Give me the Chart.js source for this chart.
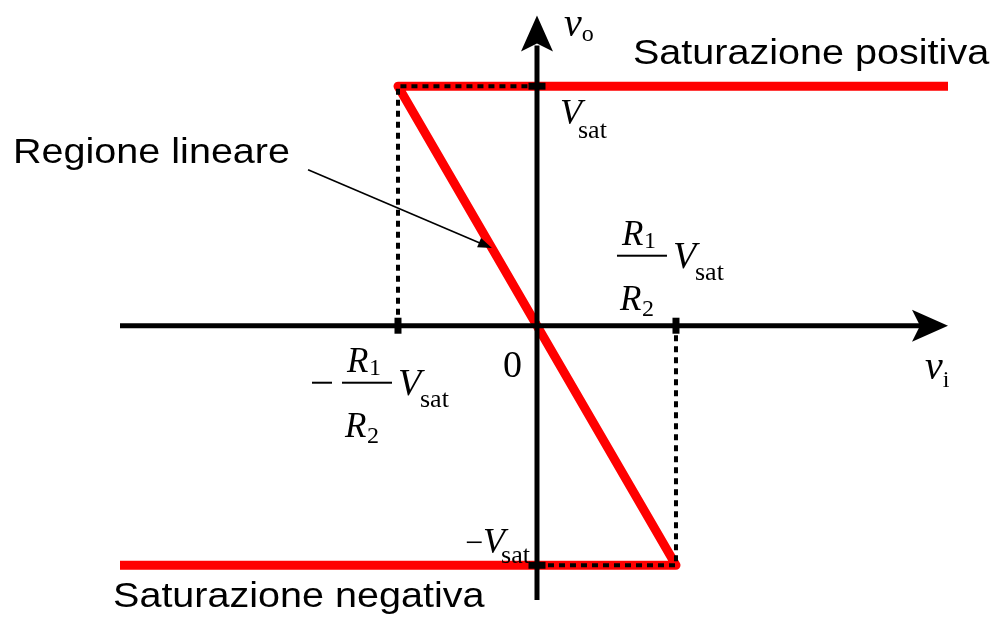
<!DOCTYPE html>
<html>
<head>
<meta charset="utf-8">
<script src="https://cdn.jsdelivr.net/npm/chart.js@4/dist/chart.umd.min.js"></script>
<style>
  body { margin: 0; background: #fff; }
  #wrap { width: 999px; height: 619px; }
</style>
</head>
<body>
<div id="wrap"><canvas id="myChart" width="999" height="619"></canvas></div>
<script>
// v_i range and v_o range (units: x in (R1/R2)Vsat, y in Vsat)
var xRange = [-3, 2.957];
var yRange = [-1.145, 1.295];

// transfer characteristic: saturazione negativa -> regione lineare -> saturazione positiva
var curveX = [-3, 1, -1, 2.957];
var curveY = [-1, -1, 1, 1];

// dotted guide lines
var guideLeftX = [-1, -1, 0];
var guideLeftY = [0, 1, 1];
var guideRightX = [0, 1, 1];
var guideRightY = [-1, -1, 0];

// axes (ends under the arrow heads)
var axisX = [-3, 2.78];
var axisY = [-1.145, 1.17];

// tick marks
var xTicks = [-1, 1];
var yTicks = [1, -1];

// pointer for "Regione lineare"
var pointerFrom = { x: -1.647, y: 0.651 };
var pointerTo = { x: -0.324, y: 0.324 };

var serif = '"Liberation Serif", "Times New Roman", serif';
var sans = '"Liberation Sans", Arial, sans-serif';

function pts(xs, ys) {
    var out = [];
    for (var i = 0; i < xs.length; i++) out.push({ x: xs[i], y: ys[i] });
    return out;
}

// text labels: anchor in data units, offset in px, list of runs
var labels = [
    { at: [0, 1], dx: 96, dy: -22, sx: 1.13, runs: [{ t: 'Saturazione positiva', f: '35px ' + sans }] },
    { at: [-1, 1], dx: -385, dy: 77, sx: 1.13, runs: [{ t: 'Regione lineare', f: '35px ' + sans }] },
    { at: [-3, -1], dx: -7, dy: 42, sx: 1.13, runs: [{ t: 'Saturazione negativa', f: '35px ' + sans }] },
    { at: [0, 1.295], dx: 27, dy: 20, runs: [{ t: 'v', f: 'italic 40px ' + serif }, { t: 'o', f: '24px ' + serif, dy: 5 }] },
    { at: [2.957, 0], dx: -23, dy: 53, runs: [{ t: 'v', f: 'italic 40px ' + serif }, { t: 'i', f: '24px ' + serif, dy: 8 }] },
    { at: [0, 0], dx: -34, dy: 51, runs: [{ t: '0', f: '38px ' + serif }] },
    { at: [0, 1], dx: 23, dy: 38, runs: [{ t: 'V', f: 'italic 36px ' + serif }, { t: 'sat', f: '26px ' + serif, dx: -4, dy: 14 }] },
    { at: [0, -1], dx: -72, dy: -12, runs: [{ t: '\u2212', f: '32px ' + serif }, { t: 'V', f: 'italic 36px ' + serif }, { t: 'sat', f: '26px ' + serif, dx: -4, dy: 10 }] }
];

// fractions R1/R2 Vsat: anchor, sign
var fractions = [
    { at: [-1, 0], dx: -56, dy: 57, minus: true },
    { at: [1, 0], dx: -59, dy: -70, minus: false }
];

var overlay = {
    id: 'overlay',
    afterDatasetsDraw: function (chart) {
        var ctx = chart.ctx;
        var xs = chart.scales.x, ys = chart.scales.y;
        function px(x, y) { return [xs.getPixelForValue(x), ys.getPixelForValue(y)]; }

        ctx.save();
        ctx.fillStyle = '#000';
        ctx.strokeStyle = '#000';

        // arrow heads on the axes
        var tx = px(xRange[1], 0);
        ctx.beginPath();
        ctx.moveTo(tx[0], tx[1]);
        ctx.lineTo(tx[0] - 36, tx[1] - 16);
        ctx.lineTo(tx[0] - 28, tx[1]);
        ctx.lineTo(tx[0] - 36, tx[1] + 16);
        ctx.closePath();
        ctx.fill();

        var ty = px(0, yRange[1]);
        ctx.beginPath();
        ctx.moveTo(ty[0], ty[1]);
        ctx.lineTo(ty[0] - 16, ty[1] + 36);
        ctx.lineTo(ty[0], ty[1] + 28);
        ctx.lineTo(ty[0] + 16, ty[1] + 36);
        ctx.closePath();
        ctx.fill();

        // pointer
        var a = px(pointerFrom.x, pointerFrom.y), b = px(pointerTo.x, pointerTo.y);
        var ang = Math.atan2(b[1] - a[1], b[0] - a[0]);
        ctx.lineWidth = 1.6;
        ctx.beginPath();
        ctx.moveTo(a[0], a[1]);
        ctx.lineTo(b[0] - 10 * Math.cos(ang), b[1] - 10 * Math.sin(ang));
        ctx.stroke();
        ctx.beginPath();
        ctx.moveTo(b[0], b[1]);
        ctx.lineTo(b[0] - 14 * Math.cos(ang) + 5 * Math.sin(ang), b[1] - 14 * Math.sin(ang) - 5 * Math.cos(ang));
        ctx.lineTo(b[0] - 14 * Math.cos(ang) - 5 * Math.sin(ang), b[1] - 14 * Math.sin(ang) + 5 * Math.cos(ang));
        ctx.closePath();
        ctx.fill();

        // labels
        ctx.textBaseline = 'alphabetic';
        ctx.textAlign = 'left';
        labels.forEach(function (l) {
            var p = px(l.at[0], l.at[1]);
            ctx.save();
            ctx.translate(p[0] + l.dx, p[1] + l.dy);
            ctx.scale(l.sx || 1, 1);
            var cx = 0;
            l.runs.forEach(function (r) {
                ctx.font = r.f;
                cx += (r.dx || 0);
                ctx.fillText(r.t, cx, r.dy || 0);
                cx += ctx.measureText(r.t).width;
            });
            ctx.restore();
        });

        // fractions
        fractions.forEach(function (fr) {
            var p = px(fr.at[0], fr.at[1]);
            var x0 = p[0] + fr.dx, y0 = p[1] + fr.dy; // bar left, bar y
            if (fr.minus) {
                ctx.fillRect(x0 - 30, y0 - 1, 20, 2);
            }
            ctx.fillRect(x0, y0 - 1, 50, 2);
            ctx.font = 'italic 35px ' + serif;
            ctx.fillText('R', x0 + 5, y0 - 11);
            ctx.fillText('R', x0 + 3, y0 + 54);
            ctx.font = '24px ' + serif;
            ctx.fillText('1', x0 + 27, y0 - 8);
            ctx.fillText('2', x0 + 25, y0 + 60);
            ctx.font = 'italic 38px ' + serif;
            ctx.fillText('V', x0 + 56, y0 + 12);
            ctx.font = '26px ' + serif;
            ctx.fillText('sat', x0 + 78, y0 + 24);
        });
        ctx.restore();
    }
};

var data = {
    datasets: [
        {   // axes
            data: pts(axisX, [0, 0]),
            borderColor: '#000', borderWidth: 5, pointRadius: 0, order: 1
        },
        {
            data: pts([0, 0], axisY),
            borderColor: '#000', borderWidth: 5, pointRadius: 0, order: 1
        },
        {   // ticks on v_i axis
            data: pts(xTicks, [0, 0]), showLine: false,
            pointStyle: 'line', pointRotation: 90, pointRadius: 8,
            pointBorderWidth: 7, pointBorderColor: '#000', order: 0
        },
        {   // ticks on v_o axis
            data: pts([0, 0], yTicks), showLine: false,
            pointStyle: 'line', pointRotation: 0, pointRadius: 8.5,
            pointBorderWidth: 7, pointBorderColor: '#000', order: 0
        },
        {   // dotted guides
            data: pts(guideLeftX, guideLeftY),
            borderColor: '#000', borderWidth: 4, borderDash: [6, 5], pointRadius: 0, order: 2
        },
        {
            data: pts(guideRightX, guideRightY),
            borderColor: '#000', borderWidth: 4, borderDash: [6, 5], pointRadius: 0, order: 2
        },
        {   // transfer characteristic
            data: pts(curveX, curveY),
            borderColor: '#ff0000', borderWidth: 9, pointRadius: 0, order: 3,
            borderJoinStyle: 'round'
        }
    ]
};

var options = {
    responsive: false,
    animation: false,
    devicePixelRatio: 1,
    layout: { padding: { left: 120, right: 51, top: 12, bottom: 19 } },
    plugins: { legend: { display: false }, tooltip: { enabled: false } },
    elements: { line: { tension: 0, fill: false } },
    scales: {
        x: { type: 'linear', min: xRange[0], max: xRange[1], display: false },
        y: { type: 'linear', min: yRange[0], max: yRange[1], display: false }
    }
};

data.datasets.forEach(function (d) { d.showLine = d.showLine !== false; d.clip = false; });

var ctx = document.getElementById('myChart');
var myChart = new Chart(ctx, {
    type: 'scatter',
    data: data,
    options: options,
    plugins: [overlay]
});
</script>
</body>
</html>
